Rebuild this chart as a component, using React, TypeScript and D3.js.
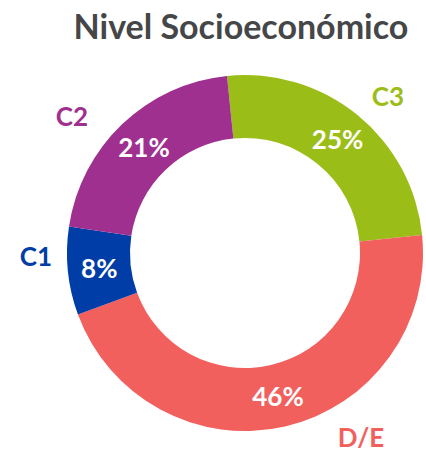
import React from "react";
import * as d3 from "d3";

const categories = ["C3", "D/E", "C1", "C2"];
const values = [25, 46, 8, 21];
const colors = ["#9BBD17", "#F2605E", "#003DA6", "#A0308F"];
const categoryLabelPos: [number, number][] = [
  [388, 106],
  [361, 447],
  [36, 266],
  [72, 126],
];

const W = 426;
const H = 454;
const cx = 245;
const cy = 253;
const outerR = 178;
const innerR = 115;
const startOffset = (-5.8 * Math.PI) / 180;

export default function App() {
  const pie = d3
    .pie<number>()
    .sort(null)
    .value((d) => d)
    .startAngle(startOffset)
    .endAngle(startOffset + 2 * Math.PI);
  const arcs = pie(values);
  const arc = d3.arc<d3.PieArcDatum<number>>().innerRadius(innerR).outerRadius(outerR);
  const labelArc = d3
    .arc<d3.PieArcDatum<number>>()
    .innerRadius((innerR + outerR) / 2)
    .outerRadius((innerR + outerR) / 2);

  return (
    <svg
      width={W}
      height={H}
      style={{ position: "absolute", left: 0, top: 0, background: "#fff" }}
      fontFamily="Lato, 'Open Sans', sans-serif"
    >
      <text x={241} y={39} textAnchor="middle" fontSize={34} fontWeight="bold" fill="#454648">
        Nivel Socioeconómico
      </text>
      <g transform={`translate(${cx},${cy})`}>
        {arcs.map((a, i) => (
          <path key={i} d={arc(a) || ""} fill={colors[i]} />
        ))}
        {arcs.map((a, i) => {
          const [x, y] = labelArc.centroid(a);
          return (
            <text
              key={"l" + i}
              x={x}
              y={y}
              textAnchor="middle"
              dominantBaseline="central"
              fontSize={26}
              fontWeight="bold"
              fill="#fff"
            >
              {values[i]}%
            </text>
          );
        })}
      </g>
      {categories.map((c, i) => (
        <text
          key={"c" + i}
          x={categoryLabelPos[i][0]}
          y={categoryLabelPos[i][1]}
          textAnchor="middle"
          fontSize={26}
          fontWeight="bold"
          fill={colors[i]}
        >
          {c}
        </text>
      ))}
    </svg>
  );
}
